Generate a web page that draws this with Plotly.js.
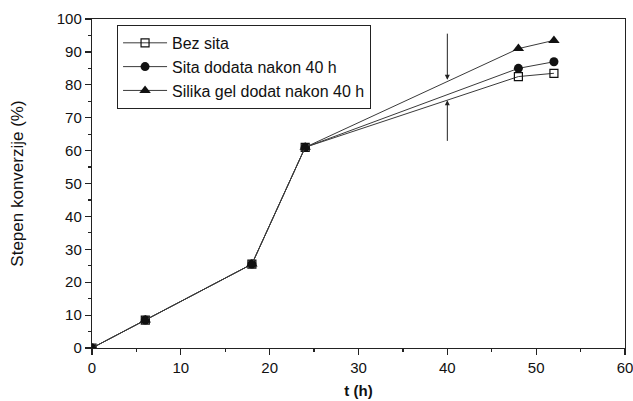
<!DOCTYPE html>
<html><head><meta charset="utf-8">
<script src="https://cdn.plot.ly/plotly-3.0.1.min.js"></script>
<style>html,body{margin:0;padding:0;background:#fff}</style>
</head><body>
<div id="chart" style="width:633px;height:401px"></div>
<script>
const tHours = [0, 6, 18, 24, 48, 52];
const bezSita = [0, 8.5, 25.5, 61, 82.5, 83.5];
const sitaDodata = [0, 8.5, 25.5, 61, 85, 87];
const silikaGel = [0, 8.5, 25.5, 61, 91, 93.5];
const seriesNames = ['Bez sita', 'Sita dodata nakon 40 h', 'Silika gel dodat nakon 40 h'];
// arrow marks at t = 40 h: [tip value, tail value]
const arrowT = 40;
const arrowDown = [81.5, 96];
const arrowUp = [75.3, 62.5];

const lineStyle = {color: '#3a3a3a', width: 1};
const font = {family: 'Liberation Sans, Arial, sans-serif', color: '#111'};
const traces = [
  {x: tHours, y: bezSita, name: seriesNames[0], mode: 'lines+markers', line: lineStyle,
   marker: {symbol: 'square-open', size: 8, color: '#111', line: {width: 1.2, color: '#111'}}},
  {x: tHours, y: sitaDodata, name: seriesNames[1], mode: 'lines+markers', line: lineStyle,
   marker: {symbol: 'circle', size: 9, color: '#111'}},
  {x: tHours, y: silikaGel, name: seriesNames[2], mode: 'lines+markers', line: lineStyle,
   marker: {symbol: 'triangle-up', size: 10, color: '#111'}}
];
const axisCommon = {
  showline: true, linecolor: '#222', linewidth: 1.2, mirror: true,
  ticks: 'outside', ticklen: 6, tickcolor: '#222', tickwidth: 1.2,
  showgrid: false, zeroline: false, ticklabeloverflow: 'allow',
  tickfont: {family: font.family, size: 15, color: '#111'}
};
const layout = {
  width: 633, height: 401,
  margin: {l: 92, r: 8, t: 19, b: 53},
  paper_bgcolor: '#fff', plot_bgcolor: '#fff',
  font: font,
  showlegend: true,
  legend: {x: 0.047, y: 0.982, xanchor: 'left', yanchor: 'top',
    bordercolor: '#222', borderwidth: 1, bgcolor: '#fff',
    font: {family: font.family, size: 16, color: '#111'},
    tracegroupgap: 0, itemwidth: 44},
  xaxis: Object.assign({}, axisCommon, {
    range: [0, 60], dtick: 10,
    minor: {dtick: 5, ticks: 'outside', ticklen: 3, tickcolor: '#222'},
    title: {text: '<b>t (h)</b>', font: {family: font.family, size: 15, color: '#111'}, standoff: 10}
  }),
  yaxis: Object.assign({}, axisCommon, {
    range: [0, 100], dtick: 10,
    minor: {dtick: 5, ticks: 'outside', ticklen: 3, tickcolor: '#222'},
    title: {text: 'Stepen konverzije (%)', font: {family: font.family, size: 17, color: '#111'}, standoff: 28}
  }),
  annotations: [
    {x: arrowT, y: arrowDown[0], ax: arrowT, ay: arrowDown[1], xref: 'x', yref: 'y', axref: 'x', ayref: 'y',
     showarrow: true, arrowhead: 2, arrowsize: 1, arrowwidth: 1, arrowcolor: '#222', text: ''},
    {x: arrowT, y: arrowUp[0], ax: arrowT, ay: arrowUp[1], xref: 'x', yref: 'y', axref: 'x', ayref: 'y',
     showarrow: true, arrowhead: 2, arrowsize: 1, arrowwidth: 1, arrowcolor: '#222', text: ''}
  ]
};
Plotly.newPlot('chart', traces, layout, {displayModeBar: false, staticPlot: true});
</script>
</body></html>
